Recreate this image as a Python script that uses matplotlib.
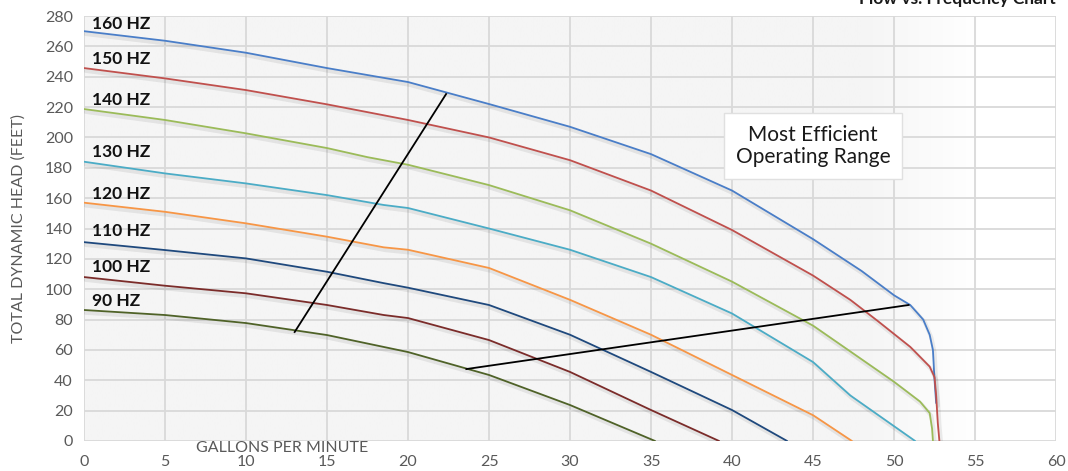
import numpy as np
import matplotlib
matplotlib.use('Agg')
import matplotlib.pyplot as plt
import matplotlib.patheffects as pe
from matplotlib.colors import LinearSegmentedColormap

plt.rcParams['font.family'] = ['Lato', 'DejaVu Sans']

# pump curves: flow (gpm) vs total dynamic head (ft)
hz_labels = ['160 HZ', '150 HZ', '140 HZ', '130 HZ', '120 HZ', '110 HZ', '100 HZ', '90 HZ']
label_y = [274.7, 252, 224.6, 190.6, 163, 138.5, 114.4, 92.4]

gpm_160 = [0, 5, 10, 15, 20, 25, 30, 35, 40, 45, 48, 50, 51, 51.8, 52.2, 52.4, 52.5, 52.6]
tdh_160 = [270, 263.7, 255.8, 245.7, 236.5, 222, 207, 189, 165, 133, 112, 96, 89.6, 80, 70, 60, 40, 25]

gpm_150 = [0, 5, 10, 15, 20, 25, 30, 35, 40, 45, 47.3, 49, 51, 52.2, 52.5, 52.6, 52.7, 52.8]
tdh_150 = [245.7, 238.9, 231.2, 221.8, 211.5, 200, 185, 165, 139, 109, 93, 79, 62, 49, 42, 30, 12, 0]

gpm_140 = [0, 5, 10, 15, 17.5, 20, 25, 30, 35, 40, 45, 47.3, 50, 51.6, 52.2, 52.35, 52.4]
tdh_140 = [218.7, 211.5, 202.7, 193, 187, 182, 168.6, 152, 130, 105, 76, 59, 39, 26, 18.4, 8, 0]

gpm_130 = [0, 5, 10, 15, 18.5, 20, 25, 30, 35, 40, 45, 47.3, 51.3]
tdh_130 = [184, 176.3, 169.7, 162, 155.5, 153.5, 140, 126, 108, 84, 52, 30, 0]

gpm_120 = [0, 5, 10, 15, 18.5, 20, 25, 30, 35, 40, 45, 47.4]
tdh_120 = [157, 151, 143.4, 134.6, 127.6, 126, 114, 93, 70, 43.5, 17, 0]

gpm_110 = [0, 5, 10, 15, 18.5, 20, 25, 30, 35, 40, 43.4]
tdh_110 = [131, 125.8, 120.3, 111.5, 104, 101, 89.6, 70, 45.5, 20.4, 0]

gpm_100 = [0, 5, 10, 15, 18.5, 20, 25, 30, 35, 39.2]
tdh_100 = [108, 102.3, 97.3, 89.6, 83, 81, 66.5, 45.5, 20.4, 0]

gpm_90 = [0, 5, 10, 15, 20, 25, 30, 35.25]
tdh_90 = [86.3, 83, 77.7, 69.8, 58.6, 43.5, 23.7, 0]

curves = [(gpm_160, tdh_160), (gpm_150, tdh_150), (gpm_140, tdh_140), (gpm_130, tdh_130),
          (gpm_120, tdh_120), (gpm_110, tdh_110), (gpm_100, tdh_100), (gpm_90, tdh_90)]
colors = ['#4A7EC8', '#C0504D', '#9BBB59', '#4BACC6', '#F79646', '#1F497D', '#7B2C2A', '#4F6228']

# efficient operating range boundaries
left_bound_x = [13.0, 22.35]
left_bound_y = [71.8, 228.6]
right_bound_x = [23.6, 50.9]
right_bound_y = [47.4, 89.6]

fig = plt.figure(figsize=(10.68, 4.71), dpi=100)
ax = fig.add_axes([0.0787, 0.0637, 0.9101, 0.9023])

# plot area: light grey fading to white on the right
grad = np.linspace(0, 1, 600)
grad = np.clip((grad - 0.80) / 0.12, 0, 1)[None, :]
cmap = LinearSegmentedColormap.from_list('bg', ['#F5F5F5', '#FFFFFF'])
ax.imshow(grad, extent=[0, 60, 0, 280], aspect='auto', cmap=cmap, zorder=0, vmin=0, vmax=1)

ax.set_xlim(0, 60)
ax.set_ylim(0, 280)
ax.set_xticks(range(0, 61, 5))
ax.set_yticks(range(0, 281, 20))
ax.grid(True, color='#D9D9D9', linewidth=1.3, zorder=1)
for s in ax.spines.values():
    s.set_visible(False)
ax.tick_params(length=0, labelsize=11.5, labelcolor='#595959')
ax.tick_params(axis='x', pad=10)
ax.tick_params(axis='y', pad=8)
ax.set_axisbelow(True)

shadow = [pe.SimpleLineShadow(offset=(1.2, -2.0), shadow_color='#000000', alpha=0.07, linewidth=3), pe.Normal()]
for (x, y), c in zip(curves, colors):
    ax.plot(x, y, color=c, linewidth=1.3, zorder=3, path_effects=shadow,
            solid_capstyle='round', solid_joinstyle='round')

for lab, ly in zip(hz_labels, label_y):
    ax.text(0.5, ly, lab, fontsize=12.5, fontweight='bold', color='#111111', va='center', ha='left', zorder=5)

ax.plot(left_bound_x, left_bound_y, color='black', linewidth=1.3, zorder=4)
ax.plot(right_bound_x, right_bound_y, color='black', linewidth=1.3, zorder=4)

ax.text(45.0, 194.3, 'Most Efficient\nOperating Range', fontsize=15, color='#1a1a1a', ha='center', va='center',
        linespacing=1.15, zorder=6,
        bbox=dict(boxstyle='square,pad=0.55', facecolor='white', edgecolor='#E0E0E0', linewidth=1))

ax.set_ylabel('TOTAL DYNAMIC HEAD (FEET)', fontsize=11.5, color='#595959', labelpad=14)
ax.text(12.2, -4.6, 'GALLONS PER MINUTE', fontsize=11.5, color='#595959', ha='center', va='center', zorder=6)

# chart title, cut off at the top edge of the image
fig.text(0.9888, 0.9915, 'Flow vs. Frequency Chart', fontsize=12.5, fontweight='bold', color='#1a1a1a',
         ha='right', va='baseline')

fig.savefig('out.png', dpi=100)
